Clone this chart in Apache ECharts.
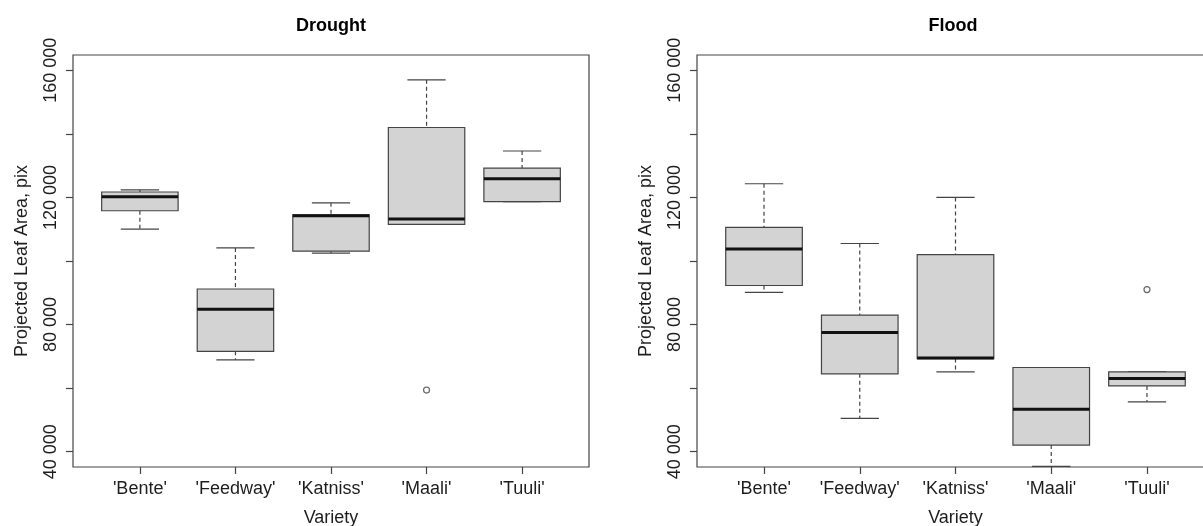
<!DOCTYPE html>
<html><head><meta charset="utf-8">
<script src="https://cdn.jsdelivr.net/npm/echarts@6/dist/echarts.min.js"></script>
<style>html,body{margin:0;padding:0;background:#fff}#c{width:1203px;height:526px}</style>
</head><body><div id="c"></div>
<script>
const categories = ["'Bente'", "'Feedway'", "'Katniss'", "'Maali'", "'Tuuli'"];
const panelTitles = ['Drought', 'Flood'];
const yAxisTitle = 'Projected Leaf Area, pix';
const xAxisTitle = 'Variety';
// [min, Q1, median, Q3, max]
const droughtStats = [
  [110000, 115800, 120200, 121700, 122400],
  [68900, 71600, 84800, 91200, 104100],
  [102500, 103100, 114200, 114500, 118300],
  [111500, 111500, 113200, 142000, 157000],
  [118700, 118700, 125900, 129200, 134600]
];
const droughtOutliers = [[4, 59400]];
const floodStats = [
  [90100, 92300, 103800, 110600, 124300],
  [50500, 64500, 77500, 83000, 105500],
  [65100, 69300, 69500, 102000, 120000],
  [35400, 42100, 53400, 66500, 66500],
  [55700, 60700, 63000, 65100, 65100]
];
const floodOutliers = [[5, 91000]];
const yTickValues = [40000, 60000, 80000, 100000, 120000, 140000, 160000];
const yLabelValues = [40000, 80000, 120000, 160000];
const xPositions = [1, 2, 3, 4, 5];

const FONT = '"Liberation Sans", Arial, Helvetica, sans-serif';
const LINE = '#444';
const TEXT = '#1e1e1e';

function fmt(v) { return String(Math.round(v)).replace(/\B(?=(\d{3})+(?!\d))/g, ' '); }

function renderBox(params, api) {
  const x = api.value(0);
  const p = [1, 2, 3, 4, 5].map(d => api.coord([x, api.value(d)]));
  const cx = p[0][0];
  const hb = api.size([0.4, 0])[0];
  const hc = api.size([0.2, 0])[0];
  const dash = { stroke: LINE, lineWidth: 1.2, lineDash: [4, 3] };
  const solid = { stroke: LINE, lineWidth: 1.2 };
  return {
    type: 'group',
    children: [
      { type: 'line', shape: { x1: cx, y1: p[4][1], x2: cx, y2: p[3][1] }, style: dash },
      { type: 'line', shape: { x1: cx, y1: p[1][1], x2: cx, y2: p[0][1] }, style: dash },
      { type: 'line', shape: { x1: cx - hc, y1: p[4][1], x2: cx + hc, y2: p[4][1] }, style: solid },
      { type: 'line', shape: { x1: cx - hc, y1: p[0][1], x2: cx + hc, y2: p[0][1] }, style: solid },
      { type: 'rect', shape: { x: cx - hb, y: p[3][1], width: 2 * hb, height: p[1][1] - p[3][1] },
        style: { fill: '#d3d3d3', stroke: LINE, lineWidth: 1.2 } },
      { type: 'line', shape: { x1: cx - hb, y1: p[2][1], x2: cx + hb, y2: p[2][1] },
        style: { stroke: '#111', lineWidth: 3 } }
    ]
  };
}

const grids = [
  { left: 73, top: 55, width: 516, height: 412 },
  { left: 697, top: 55, width: 517, height: 412 }
];

const option = {
  backgroundColor: '#fff',
  animation: false,
  textStyle: { fontFamily: FONT },
  grid: grids.map(g => Object.assign({ show: true, borderColor: LINE, borderWidth: 1.2,
    backgroundColor: 'transparent', containLabel: false, outerBoundsMode: 'none' }, g)),
  xAxis: [0, 1].map(i => ({
    gridIndex: i, type: 'value', min: 0.3, max: 5.7,
    splitLine: { show: false }, axisLine: { show: false },
    axisTick: { show: true, customValues: xPositions, length: 7, lineStyle: { color: LINE, width: 1.2 } },
    axisLabel: { customValues: xPositions, formatter: v => categories[Math.round(v) - 1],
      margin: 13, fontSize: 18, color: TEXT, fontFamily: FONT },
    name: xAxisTitle, nameLocation: 'middle', nameGap: 42,
    nameTextStyle: { fontSize: 18, color: TEXT, fontFamily: FONT }
  })),
  yAxis: [0, 1].map(i => ({
    gridIndex: i, type: 'value', min: 35200, max: 164800,
    splitLine: { show: false }, axisLine: { show: false },
    axisTick: { show: true, customValues: yTickValues, length: 7, lineStyle: { color: LINE, width: 1.2 } },
    axisLabel: { customValues: yLabelValues, rotate: 90, formatter: fmt, margin: 13,
      fontSize: 18, color: TEXT, fontFamily: FONT },
    name: yAxisTitle, nameLocation: 'middle', nameRotate: 90, nameGap: 42,
    nameTextStyle: { fontSize: 18, color: TEXT, fontFamily: FONT }
  })),
  graphic: [
    { type: 'text', x: 331, y: 26, style: { text: panelTitles[0], font: 'bold 18px ' + FONT, fill: '#000',
      align: 'center', verticalAlign: 'middle', textAlign: 'center', textVerticalAlign: 'middle' } },
    { type: 'text', x: 953, y: 26, style: { text: panelTitles[1], font: 'bold 18px ' + FONT, fill: '#000',
      align: 'center', verticalAlign: 'middle', textAlign: 'center', textVerticalAlign: 'middle' } }
  ],
  series: [
    { type: 'custom', xAxisIndex: 0, yAxisIndex: 0, renderItem: renderBox, clip: false, silent: true,
      encode: { x: 0, y: [1, 2, 3, 4, 5] },
      data: droughtStats.map((s, k) => [xPositions[k]].concat(s)) },
    { type: 'custom', xAxisIndex: 1, yAxisIndex: 1, renderItem: renderBox, clip: false, silent: true,
      encode: { x: 0, y: [1, 2, 3, 4, 5] },
      data: floodStats.map((s, k) => [xPositions[k]].concat(s)) },
    { type: 'scatter', xAxisIndex: 0, yAxisIndex: 0, symbol: 'circle', symbolSize: 6, silent: true,
      itemStyle: { color: '#fff', borderColor: LINE, borderWidth: 1.2 }, data: droughtOutliers },
    { type: 'scatter', xAxisIndex: 1, yAxisIndex: 1, symbol: 'circle', symbolSize: 6, silent: true,
      itemStyle: { color: '#fff', borderColor: LINE, borderWidth: 1.2 }, data: floodOutliers }
  ]
};
const chart = echarts.init(document.getElementById('c'), null, { renderer: 'canvas' });
chart.setOption(option);
</script>
</body></html>
